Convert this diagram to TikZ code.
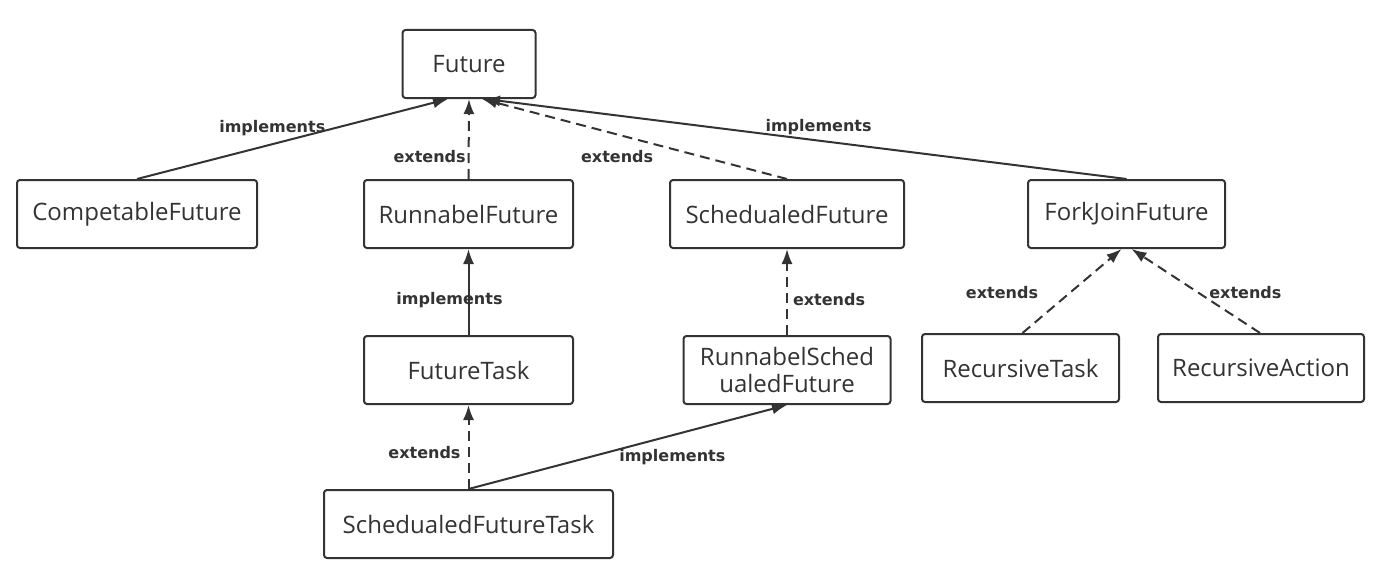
\documentclass[tikz,border=0pt]{standalone}
\usepackage{fontspec}
\setmainfont{Open Sans}
\newfontfamily\lblfont{DejaVu Sans}
\usetikzlibrary{positioning,arrows.meta}
\definecolor{ink}{HTML}{333333}

\tikzset{
  cls/.style={draw=ink, line width=2pt, rounded corners=3pt, minimum height=68pt,
    text=ink, font=\fontsize{24}{27}\selectfont, align=center, inner sep=2pt},
  lbl/.style={text=ink, font=\lblfont\bfseries\fontsize{16}{18}\selectfont, inner sep=1pt},
  impl/.style={draw=ink, line width=2pt, ->},
  ext/.style={impl, dash pattern=on 10pt off 6pt},
}

\begin{document}
\begin{tikzpicture}[x=1pt, y=-1pt, >={Latex[length=15pt,width=11pt]}]
    \useasboundingbox (0,0) rectangle (1386,578);

    \node[cls, minimum width=133pt] (fut) at (469,64) {Future};
    \node[cls, minimum width=240pt] (comp) at (137,214) {CompetableFuture};
    \node[cls, minimum width=209pt] (runFut) at (468.5,214) {RunnabelFuture};
    \node[cls, minimum width=234pt] (schedFut) at (787,214) {SchedualedFuture};
    \node[cls, minimum width=197pt] (forkFut) at (1126.5,214) {ForkJoinFuture};

    \node[cls, minimum width=209pt, below=86pt of runFut] (futTask) {FutureTask};
    \node[cls, minimum width=207pt, below=86pt of schedFut] (runSchedFut) {RunnabelSched\\ualedFuture};
    \node[cls, minimum width=197pt] (recTask) at (1020.5,368) {RecursiveTask};
    \node[cls, minimum width=206pt, right=37pt of recTask] (recAction) {RecursiveAction};
    \node[cls, minimum width=289pt, below=84pt of futTask] (schedTask) {SchedualedFutureTask};

    % towards Future
    \draw[impl] (comp.north) -- node[lbl, pos=0.435, above=6pt] {implements} ([xshift=-21pt]fut.south);
    \draw[ext] (runFut.north) -- node[lbl, pos=0.28, left=1pt] {extends} (fut.south);
    \draw[ext] (schedFut.north) -- node[lbl, pos=0.557, below=14pt] {extends} ([xshift=13pt]fut.south);
    \draw[impl] (forkFut.north) -- node[lbl, pos=0.48, above=4pt] {implements} ([xshift=16pt]fut.south);

    % second row
    \draw[impl] (futTask.north) -- node[lbl, pos=0.41, xshift=-19pt] {implements} (runFut.south);
    \draw[ext] (runSchedFut.north) -- node[lbl, pos=0.41, right=4pt] {extends} (schedFut.south);
    \draw[ext] ([xshift=2pt]recTask.north) -- node[lbl, pos=0.48, left=30pt] {extends} ([xshift=-5pt]forkFut.south);
    \draw[ext] ([xshift=-1pt]recAction.north) -- node[lbl, pos=0.48, right=9pt] {extends} ([xshift=5pt]forkFut.south);

    % bottom
    \draw[ext] (schedTask.north) -- node[lbl, pos=0.44, left=6pt] {extends} (futTask.south);
    \draw[impl] (schedTask.north) -- node[lbl, pos=0.64, below=12pt] {implements} (runSchedFut.south);
\end{tikzpicture}
\end{document}
